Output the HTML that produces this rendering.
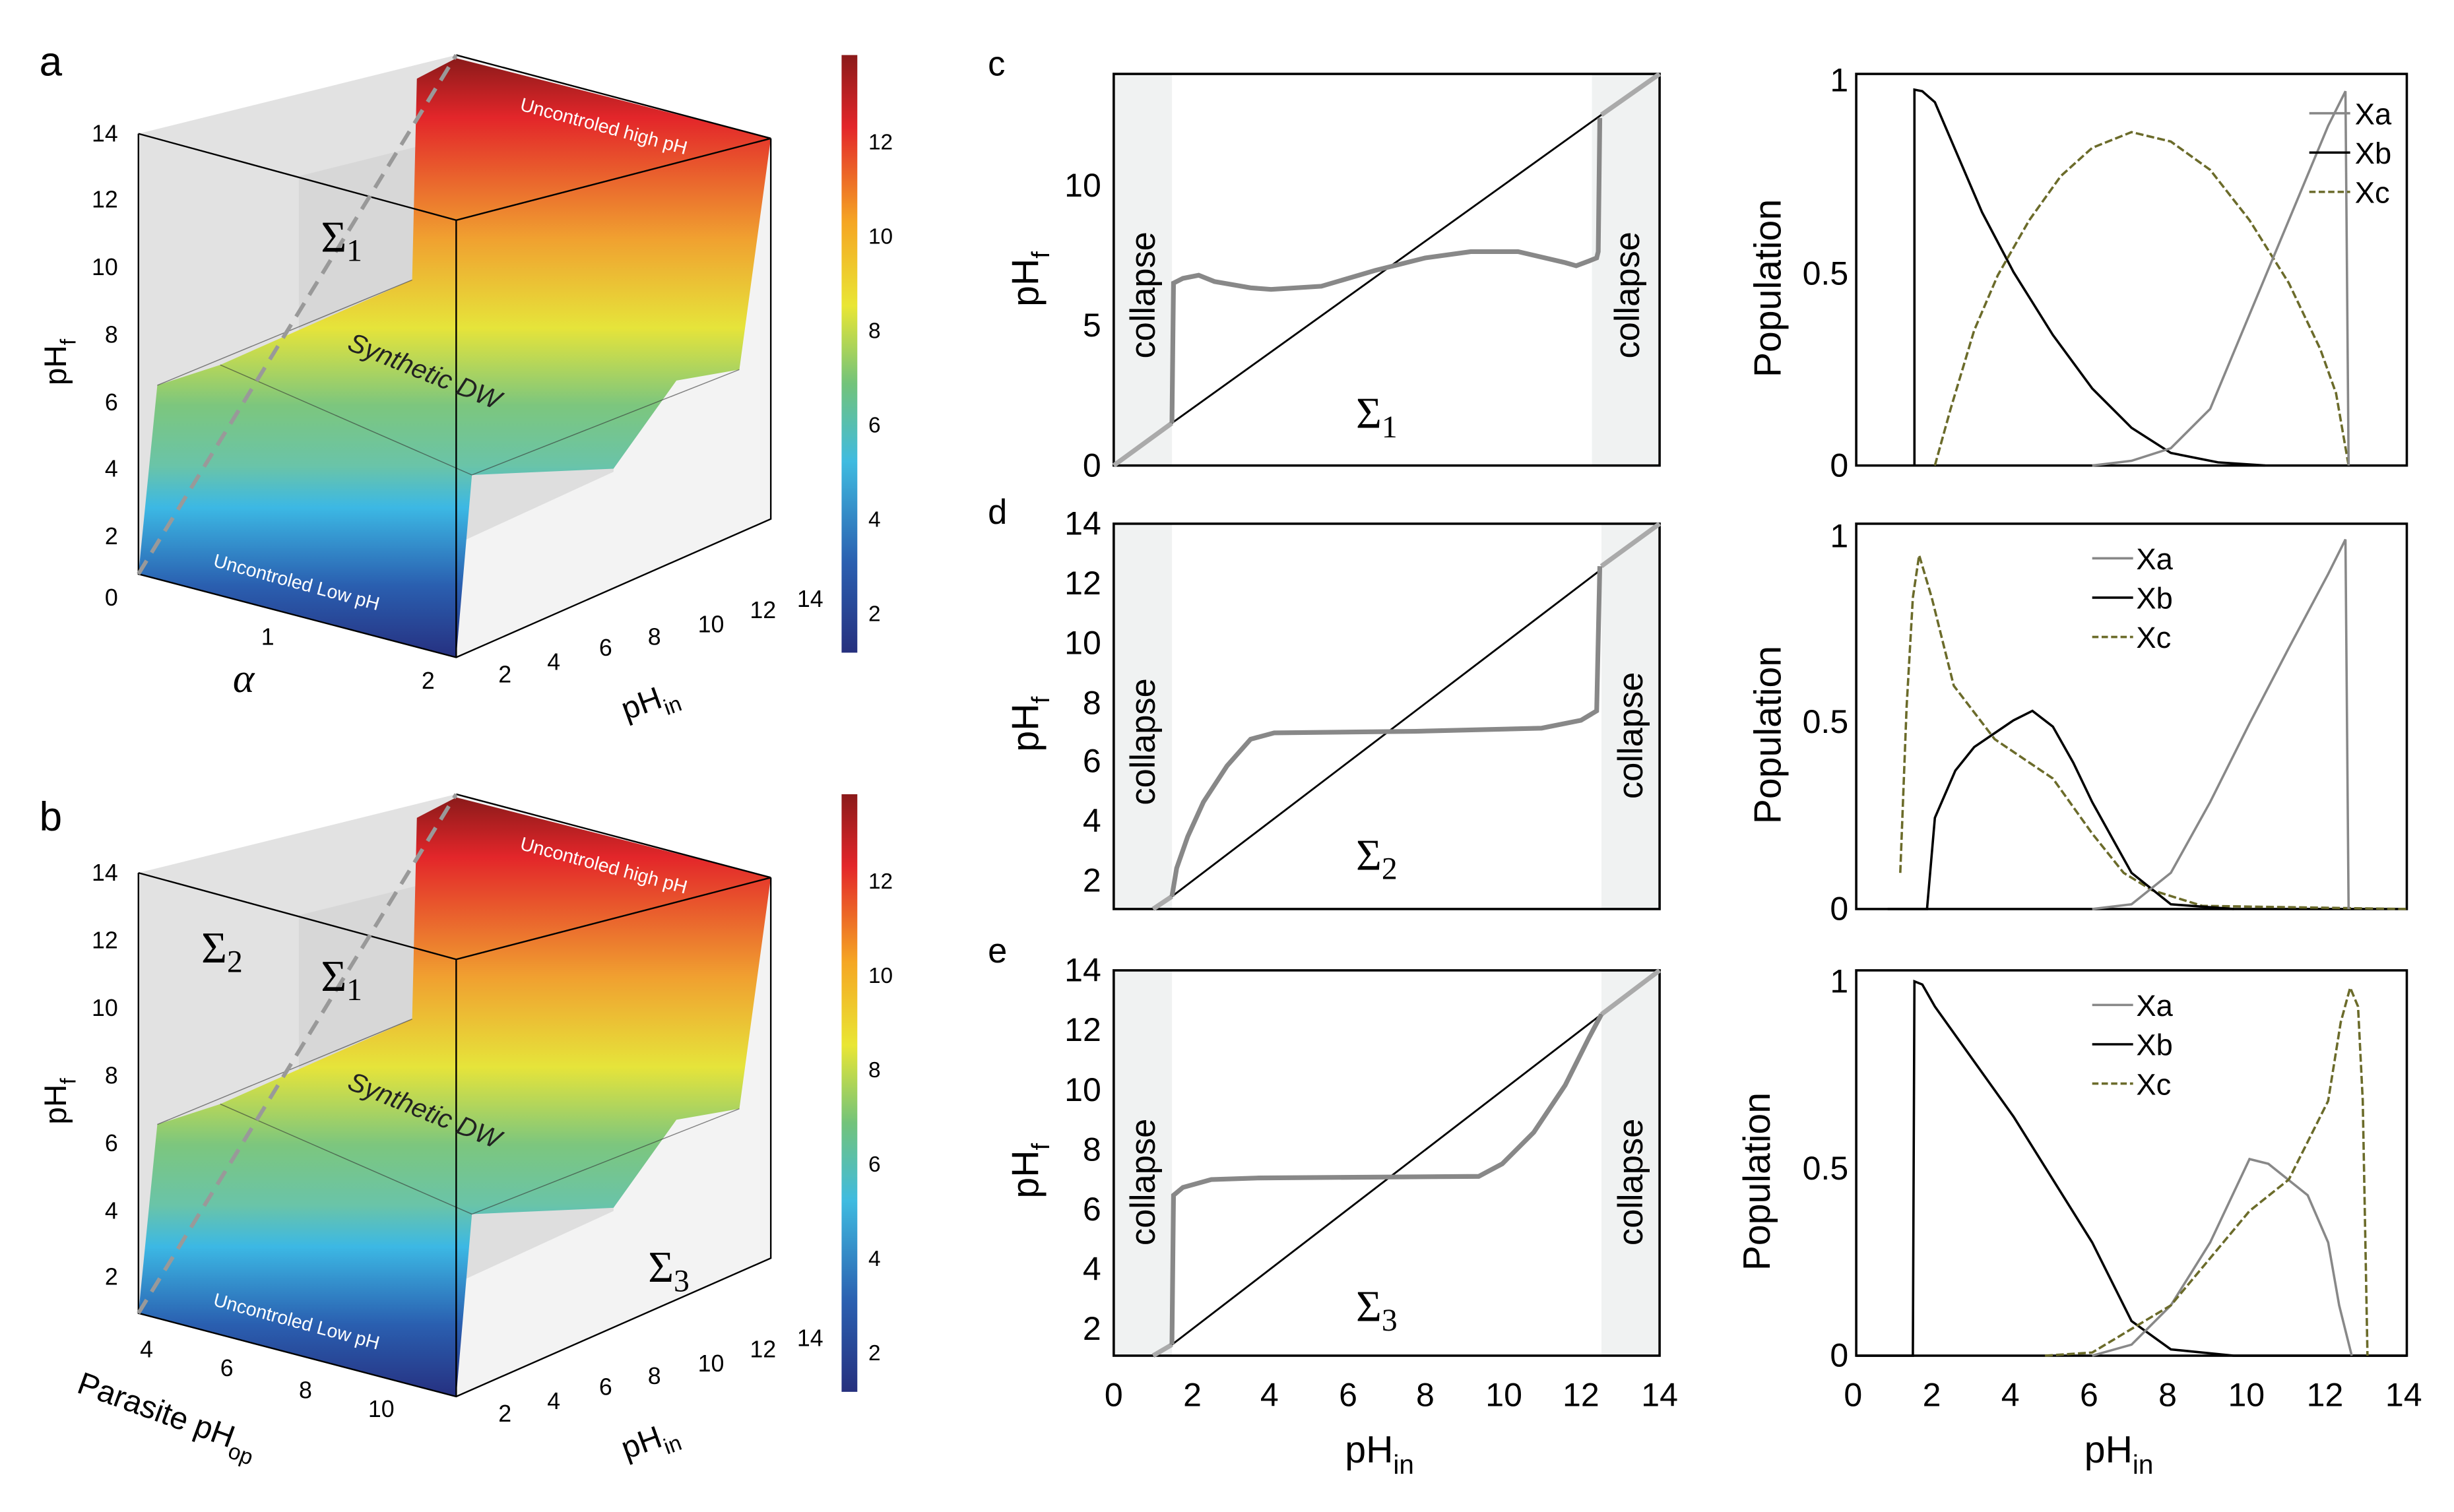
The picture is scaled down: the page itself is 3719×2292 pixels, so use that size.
<!DOCTYPE html>
<html><head><meta charset="utf-8"><style>html,body{margin:0;padding:0;background:#fff}svg{display:block}</style></head><body>
<svg width="3719" height="2292" viewBox="0 0 1560 961.4" preserveAspectRatio="none" xmlns="http://www.w3.org/2000/svg" font-family="Liberation Sans, sans-serif">
<defs>
<linearGradient id="jet" x1="0" y1="0" x2="0" y2="1">
<stop offset="0" stop-color="#8b1a1a"/><stop offset="0.12" stop-color="#e3262a"/><stop offset="0.28" stop-color="#f5a623"/><stop offset="0.42" stop-color="#e9e634"/><stop offset="0.55" stop-color="#72c37a"/><stop offset="0.68" stop-color="#3fbbe0"/><stop offset="0.85" stop-color="#2a5fb0"/><stop offset="1" stop-color="#26307e"/></linearGradient>
<linearGradient id="surf" x1="0" y1="0" x2="0" y2="1">
<stop offset="0" stop-color="#8b1a1a"/><stop offset="0.1" stop-color="#e3262a"/><stop offset="0.3" stop-color="#f0a030"/><stop offset="0.45" stop-color="#e6e43a"/><stop offset="0.58" stop-color="#7cc67e"/><stop offset="0.68" stop-color="#6ac4a8"/><stop offset="0.75" stop-color="#3cb8e4"/><stop offset="0.88" stop-color="#2a5fb0"/><stop offset="1" stop-color="#263080"/></linearGradient>
<g id="cube">
<polygon points="88,85 290,35 490,88 490,330 290,418 88,365" fill="#f3f3f3"/>
<polygon points="88,85 290,35 290,418 88,365" fill="#e2e2e2"/>
<polygon points="190,112 390,62 390,300 190,392" fill="#d0d0d0" opacity="0.6"/>
<polygon points="88,365 100,245 140,232 262,178 265,50 290,37 490,88 470,235 430,242 390,298 300,302 290,418" fill="url(#surf)"/>
<path d="M100,245 L262,178 M140,232 L300,302 M300,302 L470,235" stroke="#333" stroke-width="0.6" fill="none" opacity="0.6"/>
<path d="M88,85 L290,140 L490,88 M290,140 L290,418 M88,85 L88,365 L290,418 L490,330 L490,88 M290,35 L490,88" stroke="#000" stroke-width="1" fill="none"/>
<path d="M88,365 L290,35" stroke="#999" stroke-width="2.5" stroke-dasharray="10,6" fill="none"/>
<text x="0" y="0" transform="translate(330,70) rotate(15)" font-size="12" fill="#fff">Uncontroled high pH</text>
<text x="0" y="0" transform="translate(135,360) rotate(15)" font-size="12" fill="#fff">Uncontroled Low pH</text>
<text x="0" y="0" transform="translate(220,222) rotate(22)" font-size="17" font-style="italic" fill="#222">Synthetic DW</text>
<text x="204" y="160" font-size="28" font-family="Liberation Serif, serif">Σ<tspan font-size="20" dy="6">1</tspan></text>
<rect x="535" y="35" width="10" height="380" fill="url(#jet)"/>
<g font-size="14" text-anchor="start"><text x="552" y="395">2</text><text x="552" y="335">4</text><text x="552" y="275">6</text><text x="552" y="215">8</text><text x="552" y="155">10</text><text x="552" y="95">12</text></g>
<g font-size="15"><text x="321" y="434" text-anchor="middle">2</text><text x="352" y="426" text-anchor="middle">4</text><text x="385" y="417" text-anchor="middle">6</text><text x="416" y="410" text-anchor="middle">8</text><text x="452" y="402" text-anchor="middle">10</text><text x="485" y="393" text-anchor="middle">12</text><text x="515" y="386" text-anchor="middle">14</text></g>
<text transform="translate(398,458) rotate(-20)" font-size="20">pH<tspan font-size="14" dy="6">in</tspan></text>
<text transform="translate(42,245) rotate(-90)" font-size="20">pH<tspan font-size="14" dy="6">f</tspan></text>
</g>
</defs>
<text x="25" y="48" font-size="26">a</text>
<use href="#cube"/>
<g font-size="15" text-anchor="end"><text x="75" y="385">0</text><text x="75" y="346">2</text><text x="75" y="303">4</text><text x="75" y="261">6</text><text x="75" y="218">8</text><text x="75" y="175">10</text><text x="75" y="132">12</text><text x="75" y="90">14</text></g>
<text x="166" y="410" font-size="15">1</text><text x="268" y="438" font-size="15">2</text>
<text x="148" y="440" font-size="26" font-style="italic" font-family="Liberation Serif, serif">α</text>

<text x="25" y="528" font-size="26">b</text>
<g transform="translate(0,470)"><use href="#cube"/></g>
<text x="128" y="612" font-size="28" font-family="Liberation Serif, serif">Σ<tspan font-size="20" dy="6">2</tspan></text>
<text x="412" y="815" font-size="28" font-family="Liberation Serif, serif">Σ<tspan font-size="20" dy="6">3</tspan></text>
<g font-size="15" text-anchor="end"><text x="75" y="817">2</text><text x="75" y="775">4</text><text x="75" y="732">6</text><text x="75" y="689">8</text><text x="75" y="646">10</text><text x="75" y="603">12</text><text x="75" y="560">14</text></g>
<g font-size="15"><text x="89" y="863">4</text><text x="140" y="875">6</text><text x="190" y="889">8</text><text x="234" y="901">10</text></g>
<text transform="translate(48,885) rotate(20)" font-size="20">Parasite pH<tspan font-size="14" dy="6">op</tspan></text>

<!-- left line plots -->
<g font-size="22">
<text x="628" y="48">c</text><text x="628" y="333">d</text><text x="628" y="612">e</text>
</g>
<!-- c -->
<rect x="708" y="47" width="37" height="249" fill="#f0f2f2"/><rect x="1012" y="47" width="43" height="249" fill="#f0f2f2"/>
<rect x="708" y="47" width="347" height="249" fill="none" stroke="#000" stroke-width="1.5"/>
<path d="M708,296 L745,269 M1018,73 L1055,47" stroke="#aaa" stroke-width="3" fill="none"/>
<path d="M745,269 L1018,73" stroke="#000" stroke-width="1.2"/>
<path d="M745,269 L746,180 L752,177 L762,175 L772,179 L795,183 L808,184 L840,182 L874,172 L906,164 L935,160 L965,160 L995,167 L1002,169 L1010,166 L1015,164 L1016,160 L1017,75" stroke="#888" stroke-width="3" fill="none"/>
<g font-size="21" text-anchor="end"><text x="700" y="303">0</text><text x="700" y="214">5</text><text x="700" y="125">10</text></g>
<text transform="translate(660,195) rotate(-90)" font-size="24">pH<tspan font-size="16" dy="7">f</tspan></text>
<text transform="translate(734,228) rotate(-90)" font-size="22">collapse</text>
<text transform="translate(1042,228) rotate(-90)" font-size="22">collapse</text>
<text x="862" y="272" font-size="28" font-family="Liberation Serif, serif">Σ<tspan font-size="20" dy="6">1</tspan></text>
<!-- d -->
<rect x="708" y="333" width="37" height="245" fill="#f0f2f2"/><rect x="1018" y="333" width="37" height="245" fill="#f0f2f2"/>
<rect x="708" y="333" width="347" height="245" fill="none" stroke="#000" stroke-width="1.5"/>
<path d="M733,578 L745,570 M1018,360 L1055,333" stroke="#aaa" stroke-width="3" fill="none"/>
<path d="M745,570 L1018,362" stroke="#000" stroke-width="1.2"/>
<path d="M745,570 L748,552 L755,532 L765,510 L780,487 L795,470 L810,466 L900,465 L980,463 L1005,458 L1015,452 L1017,360" stroke="#888" stroke-width="3" fill="none"/>
<g font-size="21" text-anchor="end"><text x="700" y="567">2</text><text x="700" y="529">4</text><text x="700" y="491">6</text><text x="700" y="454">8</text><text x="700" y="416">10</text><text x="700" y="378">12</text><text x="700" y="340">14</text></g>
<text transform="translate(660,478) rotate(-90)" font-size="24">pH<tspan font-size="16" dy="7">f</tspan></text>
<text transform="translate(734,512) rotate(-90)" font-size="22">collapse</text>
<text transform="translate(1044,508) rotate(-90)" font-size="22">collapse</text>
<text x="862" y="553" font-size="28" font-family="Liberation Serif, serif">Σ<tspan font-size="20" dy="6">2</tspan></text>
<!-- e -->
<rect x="708" y="617" width="37" height="245" fill="#f0f2f2"/><rect x="1018" y="617" width="37" height="245" fill="#f0f2f2"/>
<rect x="708" y="617" width="347" height="245" fill="none" stroke="#000" stroke-width="1.5"/>
<path d="M733,862 L745,855 M1018,645 L1055,617" stroke="#aaa" stroke-width="3" fill="none"/>
<path d="M745,855 L1018,645" stroke="#000" stroke-width="1.2"/>
<path d="M745,855 L746,760 L752,755 L770,750 L800,749 L940,748 L955,740 L975,720 L995,690 L1010,660 L1018,645" stroke="#888" stroke-width="3" fill="none"/>
<g font-size="21" text-anchor="end"><text x="700" y="852">2</text><text x="700" y="814">4</text><text x="700" y="776">6</text><text x="700" y="738">8</text><text x="700" y="700">10</text><text x="700" y="662">12</text><text x="700" y="624">14</text></g>
<g font-size="21" text-anchor="middle"><text x="708" y="894">0</text><text x="758" y="894">2</text><text x="807" y="894">4</text><text x="857" y="894">6</text><text x="906" y="894">8</text><text x="956" y="894">10</text><text x="1005" y="894">12</text><text x="1055" y="894">14</text></g>
<text transform="translate(660,762) rotate(-90)" font-size="24">pH<tspan font-size="16" dy="7">f</tspan></text>
<text transform="translate(734,792) rotate(-90)" font-size="22">collapse</text>
<text transform="translate(1044,792) rotate(-90)" font-size="22">collapse</text>
<text x="862" y="840" font-size="28" font-family="Liberation Serif, serif">Σ<tspan font-size="20" dy="6">3</tspan></text>
<text x="855" y="930" font-size="24">pH<tspan font-size="17" dy="7">in</tspan></text>

<!-- right population plots -->
<g fill="none">
<rect x="1180" y="47" width="350" height="249" stroke="#000" stroke-width="1.5"/>
<path d="M1217,296 L1217,57 L1222,58 L1230,65 L1245,100 L1260,135 L1280,173 L1305,213 L1330,247 L1355,272 L1380,288 L1410,294 L1440,296" stroke="#000" stroke-width="1.5"/>
<path d="M1230,296 L1240,260 L1255,210 L1270,175 L1290,140 L1310,112 L1330,94 L1355,84 L1380,90 L1405,108 L1430,140 L1455,180 L1475,222 L1485,250 L1493,296" stroke="#6b6b2a" stroke-width="1.5" stroke-dasharray="5,2"/>
<path d="M1330,296 L1355,293 L1380,285 L1405,260 L1430,200 L1455,140 L1480,80 L1491,58 L1493,296" stroke="#888" stroke-width="1.5"/>
<path d="M1468,72 L1494,72" stroke="#888" stroke-width="1.5"/><path d="M1468,97 L1494,97" stroke="#000" stroke-width="1.5"/><path d="M1468,122 L1494,122" stroke="#6b6b2a" stroke-width="1.5" stroke-dasharray="4,2"/>
<rect x="1180" y="333" width="350" height="245" stroke="#000" stroke-width="1.5"/>
<path d="M1208,555 L1212,450 L1216,380 L1220,353 L1228,380 L1242,436 L1268,470 L1305,495 L1330,530 L1350,555 L1368,566 L1400,576 L1530,578" stroke="#6b6b2a" stroke-width="1.5" stroke-dasharray="5,2"/>
<path d="M1200,578 L1225,578 L1230,520 L1243,490 L1255,475 L1280,458 L1292,452 L1305,462 L1318,485 L1330,510 L1355,555 L1380,575 L1420,578" stroke="#000" stroke-width="1.5"/>
<path d="M1330,578 L1355,575 L1380,555 L1405,510 L1430,460 L1455,412 L1480,365 L1491,343 L1493,578" stroke="#888" stroke-width="1.5"/>
<path d="M1330,355 L1356,355" stroke="#888" stroke-width="1.5"/><path d="M1330,380 L1356,380" stroke="#000" stroke-width="1.5"/><path d="M1330,405 L1356,405" stroke="#6b6b2a" stroke-width="1.5" stroke-dasharray="4,2"/>
<rect x="1180" y="617" width="350" height="245" stroke="#000" stroke-width="1.5"/>
<path d="M1180,862 L1216,862 L1217,624 L1222,626 L1230,640 L1280,710 L1330,790 L1355,840 L1380,858 L1420,862 L1530,862" stroke="#000" stroke-width="1.5"/>
<path d="M1330,862 L1355,855 L1380,830 L1405,790 L1430,737 L1442,740 L1467,760 L1480,790 L1487,830 L1495,862" stroke="#888" stroke-width="1.5"/>
<path d="M1300,862 L1330,860 L1380,830 L1430,770 L1455,750 L1480,700 L1488,650 L1494,628 L1499,640 L1502,700 L1505,862" stroke="#6b6b2a" stroke-width="1.5" stroke-dasharray="5,2"/>
<path d="M1330,639 L1356,639" stroke="#888" stroke-width="1.5"/><path d="M1330,664 L1356,664" stroke="#000" stroke-width="1.5"/><path d="M1330,689 L1356,689" stroke="#6b6b2a" stroke-width="1.5" stroke-dasharray="4,2"/>
</g>
<g font-size="19"><text x="1497" y="79">Xa</text><text x="1497" y="104">Xb</text><text x="1497" y="129">Xc</text>
<text x="1358" y="362">Xa</text><text x="1358" y="387">Xb</text><text x="1358" y="412">Xc</text>
<text x="1358" y="646">Xa</text><text x="1358" y="671">Xb</text><text x="1358" y="696">Xc</text></g>
<g font-size="21" text-anchor="end">
<text x="1175" y="303">0</text><text x="1175" y="181">0.5</text><text x="1175" y="58">1</text>
<text x="1175" y="585">0</text><text x="1175" y="466">0.5</text><text x="1175" y="348">1</text>
<text x="1175" y="869">0</text><text x="1175" y="750">0.5</text><text x="1175" y="631">1</text></g>
<g font-size="24"><text transform="translate(1132,240) rotate(-90)">Population</text><text transform="translate(1132,524) rotate(-90)">Population</text><text transform="translate(1125,808) rotate(-90)">Population</text></g>
<g font-size="21" text-anchor="middle"><text x="1178" y="894">0</text><text x="1228" y="894">2</text><text x="1278" y="894">4</text><text x="1328" y="894">6</text><text x="1378" y="894">8</text><text x="1428" y="894">10</text><text x="1478" y="894">12</text><text x="1528" y="894">14</text></g>
<text x="1325" y="930" font-size="24">pH<tspan font-size="17" dy="7">in</tspan></text>
</svg>
</body></html>
